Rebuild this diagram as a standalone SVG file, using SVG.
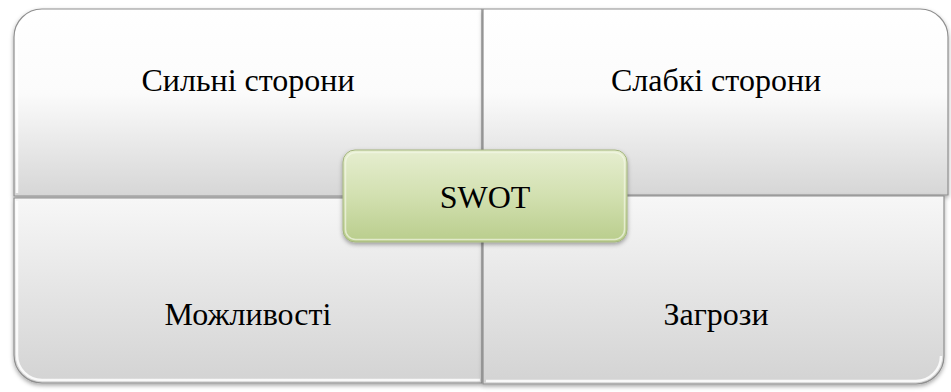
<svg xmlns="http://www.w3.org/2000/svg" width="951" height="392" viewBox="0 0 951 392">
<defs>
<style>
.q{stroke:#8f8f8f;stroke-width:1.2;filter:url(#sh)}
.hl{fill:none;stroke:#ffffff;stroke-width:2.5;stroke-opacity:0.85}
text{font-family:'Liberation Serif','DejaVu Serif',serif;font-size:32px;fill:#000;text-anchor:middle}
</style>
<linearGradient id="gTop" x1="0" y1="0" x2="0" y2="1">
<stop offset="0" stop-color="#ffffff"/>
<stop offset="0.45" stop-color="#fbfbfb"/>
<stop offset="1" stop-color="#d6d6d6"/>
</linearGradient>
<linearGradient id="gBot" x1="0" y1="0" x2="0" y2="1">
<stop offset="0" stop-color="#f7f7f7"/>
<stop offset="1" stop-color="#d3d3d3"/>
</linearGradient>
<linearGradient id="gGreen" x1="0" y1="0" x2="0" y2="1">
<stop offset="0" stop-color="#e6eed0"/>
<stop offset="0.5" stop-color="#d2e0b0"/>
<stop offset="1" stop-color="#b9cd8c"/>
</linearGradient>
<filter id="sh" x="-5%" y="-5%" width="110%" height="115%">
<feDropShadow dx="0" dy="2" stdDeviation="2" flood-color="#000" flood-opacity="0.35"/>
</filter>
</defs>
<g id="strengths">
<path class="q" fill="url(#gTop)" d="M14,196 V37 A28,28 0 0 1 42,9 H482 V196 Z"/>
<path class="hl" d="M17,193 V38 A25,25 0 0 1 42,12"/>
<text x="248" y="91" font-family="Liberation Serif, DejaVu Serif, serif">Сильні сторони</text>
</g>
<g id="weaknesses">
<path class="q" fill="url(#gTop)" d="M483,9 H920 A28,28 0 0 1 948,37 V195 H483 Z"/>
<text x="716" y="91" font-family="Liberation Serif, DejaVu Serif, serif">Слабкі сторони</text>
</g>
<g id="opportunities">
<path class="q" fill="url(#gBot)" d="M14,198 H482 V383 H42 A28,28 0 0 1 14,355 Z"/>
<path class="hl" d="M17,201 V355 A25,25 0 0 0 42,380 H480"/>
<text x="248" y="325" font-family="Liberation Serif, DejaVu Serif, serif">Можливості</text>
</g>
<g id="threats">
<path class="q" fill="url(#gBot)" d="M483,196 H944 V356 A28,28 0 0 1 916,384 H483 Z"/>
<path class="hl" d="M486,381 H916 A25,25 0 0 0 941,356"/>
<text x="716" y="325" font-family="Liberation Serif, DejaVu Serif, serif">Загрози</text>
</g>
<g id="connectors"></g>
<g id="swot">
<rect x="343" y="150" width="284" height="92" rx="12" ry="12" fill="url(#gGreen)" stroke="#a4b57e" stroke-width="1" filter="url(#sh)"/>
<rect x="345.5" y="152.5" width="279" height="87" rx="10" ry="10" fill="none" stroke="#f2f6e6" stroke-width="1.5" stroke-opacity="0.7"/>
<text x="485" y="208" font-family="Liberation Serif, DejaVu Serif, serif">SWOT</text>
</g>
</svg>
